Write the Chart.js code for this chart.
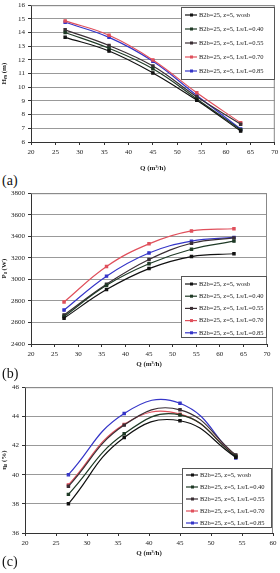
<!DOCTYPE html>
<html>
<head>
<meta charset="utf-8">
<script src="https://cdn.jsdelivr.net/npm/chart.js@4.4.0/dist/chart.umd.min.js"></script>
<style>
  body { margin: 0; background: #fff; width: 280px; height: 573px; overflow: hidden; position: relative; font-family: 'Liberation Serif', serif; }
  .box { position: absolute; left: 0; width: 280px; }
  .lbl { position: absolute; left: 2px; font-size: 14px; color: #111; }
</style>
</head>
<body>
<div class="box" style="top:0;height:172px"><canvas id="chartA"></canvas></div>
<div class="lbl" style="top:173px">(a)</div>
<div class="box" style="top:188px;height:180px"><canvas id="chartB"></canvas></div>
<div class="lbl" style="top:366px">(b)</div>
<div class="box" style="top:382px;height:175px"><canvas id="chartC"></canvas></div>
<div class="lbl" style="top:554px">(c)</div>
<script>
// series labels and colours
const labels = ['B2b=25, z=5, wosb', 'B2b=25, z=5, Ls/L=0.40', 'B2b=25, z=5, Ls/L=0.55', 'B2b=25, z=5, Ls/L=0.70', 'B2b=25, z=5, Ls/L=0.85'];
const colors = ['#111111', '#1f3a26', '#3a2e34', '#e0505c', '#3535c8'];

// (a) head
const qA = [27, 36, 45, 54, 63];
const headWosb = [13.65, 12.65, 11.05, 9.05, 6.8];
const head040 = [14.0, 12.85, 11.35, 9.15, 6.9];
const head055 = [14.2, 13.05, 11.55, 9.3, 7.3];
const head070 = [14.85, 13.8, 12.0, 9.6, 7.4];
const head085 = [14.75, 13.65, 11.9, 9.4, 6.95];

// (b) power
const qB = [27, 36, 45, 54, 63];
const powWosb = [2640, 2905, 3100, 3212, 3238];
const pow040 = [2655, 2945, 3145, 3280, 3355];
const pow055 = [2670, 2955, 3185, 3335, 3385];
const pow070 = [2790, 3120, 3330, 3450, 3470];
const pow085 = [2715, 3030, 3245, 3355, 3390];

// (c) efficiency
const qC = [27, 36, 45, 54];
const effWosb = [38.0, 42.55, 43.7, 41.2];
const eff040 = [38.65, 42.8, 44.1, 41.25];
const eff055 = [39.2, 43.4, 44.45, 41.35];
const eff070 = [39.3, 43.45, 44.15, 41.3];
const eff085 = [40.0, 44.2, 44.9, 41.15];

const tickFont = { family: 'Liberation Serif', size: 7 };
const titleFont = { family: 'Liberation Serif', size: 7, weight: 'bold' };

const framePlugin = {
    id: 'frame',
    afterDraw(chart) {
        const a = chart.chartArea, ctx = chart.ctx;
        ctx.save();
        ctx.strokeStyle = '#888';
        ctx.lineWidth = 1;
        ctx.beginPath();
        ctx.moveTo(a.left, a.top + 0.5);
        ctx.lineTo(a.right - 0.5, a.top + 0.5);
        ctx.lineTo(a.right - 0.5, a.bottom);
        ctx.stroke();
        ctx.restore();
    }
};

// legend box drawn inside the plot
const boxLegend = {
    id: 'boxLegend',
    afterDraw(chart, args, opts) {
        const ctx = chart.ctx;
        ctx.save();
        ctx.fillStyle = '#fff';
        ctx.fillRect(opts.x, opts.y, opts.w, opts.h);
        ctx.strokeStyle = '#555';
        ctx.lineWidth = 1;
        ctx.strokeRect(opts.x + 0.5, opts.y + 0.5, opts.w - 1, opts.h - 1);
        ctx.font = '6.5px "Liberation Serif"';
        ctx.textBaseline = 'middle';
        chart.data.datasets.forEach((ds, i) => {
            const y = opts.y + opts.first + i * opts.step;
            const x = opts.x + 4;
            ctx.strokeStyle = ds.borderColor;
            ctx.lineWidth = 1.2;
            ctx.beginPath();
            ctx.moveTo(x, y);
            ctx.lineTo(x + 12, y);
            ctx.stroke();
            ctx.fillStyle = ds.borderColor;
            ctx.fillRect(x + 5, y - 1.5, 3, 3);
            ctx.fillStyle = '#222';
            ctx.fillText(ds.label, x + 14, y);
        });
        ctx.restore();
    }
};

function makeChart(id, xs, series, opt) {
    const datasets = series.map((vals, i) => ({
        label: labels[i],
        data: vals.map((v, j) => ({ x: xs[j], y: v })),
        borderColor: colors[i],
        backgroundColor: colors[i],
        borderWidth: 1.2,
        pointStyle: 'rect',
        pointRadius: 1.6,
        tension: opt.tension,
        fill: false
    }));
    return new Chart(document.getElementById(id), {
        type: 'line',
        data: { datasets: datasets },
        options: {
            responsive: true,
            maintainAspectRatio: false,
            animation: false,
            layout: { padding: { top: 5, right: opt.right, left: 0, bottom: 0 } },
            scales: {
                x: {
                    type: 'linear', min: opt.xMin, max: opt.xMax,
                    ticks: { stepSize: 5, font: tickFont, color: '#222', padding: 3, maxRotation: 0 },
                    grid: { drawOnChartArea: false, tickColor: '#333', tickLength: 3 },
                    border: { color: '#333' },
                    title: { display: true, text: 'Q (m³/h)', font: titleFont, color: '#222', padding: { top: 1, bottom: 0 } },
                    afterFit(s) { s.height = opt.xHeight; s.paddingLeft = 0; s.paddingRight = 0; }
                },
                y: {
                    min: opt.yMin, max: opt.yMax,
                    ticks: { stepSize: opt.yStep, font: tickFont, color: '#222', padding: 3, format: { useGrouping: false } },
                    grid: { color: '#999', tickColor: '#333', tickLength: 3 },
                    border: { color: '#333' },
                    title: { display: true, text: opt.yTitle, font: titleFont, color: '#222', padding: 0 },
                    afterFit(s) { s.width = opt.yWidth; s.paddingTop = 0; s.paddingBottom = 0; }
                }
            },
            plugins: {
                legend: { display: false },
                tooltip: { enabled: false },
                boxLegend: opt.legend
            }
        },
        plugins: [framePlugin, boxLegend]
    });
}

makeChart('chartA', qA, [headWosb, head040, head055, head070, head085], {
    xMin: 20, xMax: 70, yMin: 6, yMax: 16, yStep: 1, yTitle: 'Hₘ (m)',
    right: 5, yWidth: 31, xHeight: 30, tension: 0.4,
    legend: { x: 181, y: 7, w: 94, h: 73, first: 8, step: 14 }
});
makeChart('chartB', qB, [powWosb, pow040, pow055, pow070, pow085], {
    xMin: 20, xMax: 70, yMin: 2400, yMax: 3800, yStep: 200, yTitle: 'Pₛ (W)',
    right: 13, yWidth: 31, xHeight: 24, tension: 0.4,
    legend: { x: 181, y: 88, w: 86, h: 62, first: 8, step: 12.2 }
});
makeChart('chartC', qC, [effWosb, eff040, eff055, eff070, eff085], {
    xMin: 20, xMax: 60, yMin: 36, yMax: 46, yStep: 2, yTitle: 'ηₛ (%)',
    right: 7, yWidth: 25, xHeight: 24, tension: 0.45,
    legend: { x: 182, y: 86, w: 90, h: 60, first: 7, step: 12 }
});
</script>
</body>
</html>
